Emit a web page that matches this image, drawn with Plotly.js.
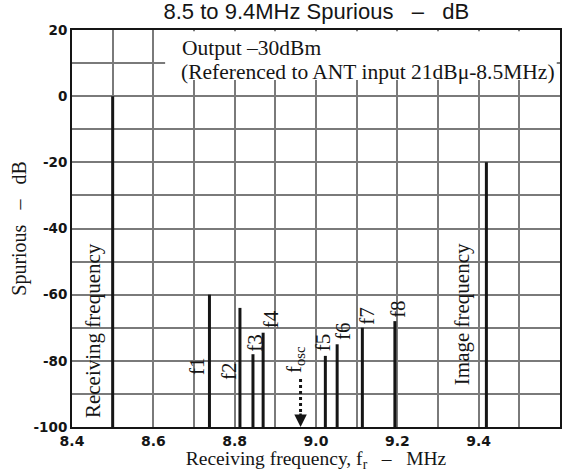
<!DOCTYPE html>
<html>
<head>
<meta charset="utf-8">
<script src="https://cdn.plot.ly/plotly-3.0.1.min.js"></script>
<style>html,body{margin:0;padding:0;background:#fff;}#chart{width:568px;height:472px;}</style>
</head>
<body>
<div id="chart"></div>
<script>
// ---- data ----
const lineNames   = ['Receiving', 'f1', 'f2', 'f3', 'f4', 'f5', 'f6', 'f7', 'f8', 'Image'];
const lineFreqMHz = [8.500, 8.738, 8.813, 8.845, 8.870, 9.023, 9.052, 9.114, 9.194, 9.419];
const lineLevelDb = [0, -60, -64, -78, -71.5, -78.5, -75, -70, -68, -20];
const floorDb = -100;
const oscFreqMHz = 8.962;
const xTickVals = [8.4, 8.5, 8.6, 8.7, 8.8, 8.9, 9.0, 9.1, 9.2, 9.3, 9.4, 9.5, 9.6];
const xTickText = ['8.4', '', '8.6', '', '8.8', '', '9.0', '', '9.2', '', '9.4', '', '9.6'];
const yTickVals = [20, 10, 0, -10, -20, -30, -40, -50, -60, -70, -80, -90, -100];
const yTickText = ['20', '', '0', '', '-20', '', '-40', '', '-60', '', '-80', '', '-100'];

// label placement (layout only)
const labelText = ['Receiving frequency', 'f1', 'f2', 'f3', 'f4', 'f<sub>osc</sub>', 'f5', 'f6', 'f7', 'f8', 'Image frequency'];
const labelX = [8.4516, 8.7073, 8.786, 8.850, 8.891, 8.948, 9.018, 9.066, 9.1246, 9.2016, 9.359];
const labelY = [-70.7, -81.6, -83.1, -74.5, -67.5, -79.5, -74.3, -71.0, -66.5, -64.3, -65.9];

const serif = 'Liberation Serif, Times New Roman, serif';
const ink = '#151515';

// build the vertical spur lines from the arrays
const xs = [], ys = [];
lineFreqMHz.forEach((f, i) => { xs.push(f, f, null); ys.push(floorDb, lineLevelDb[i], null); });

const traces = [
  { x: xs, y: ys, mode: 'lines', type: 'scatter', line: { color: ink, width: 3 }, hoverinfo: 'skip', showlegend: false },
  { x: [oscFreqMHz, oscFreqMHz], y: [-85.5, -96], mode: 'lines', type: 'scatter',
    line: { color: ink, width: 3, dash: 'dot' }, hoverinfo: 'skip', showlegend: false }
];

const annotations = labelText.map((t, i) => ({
  x: labelX[i], y: labelY[i], xref: 'x', yref: 'y', text: t, showarrow: false,
  textangle: -90, xanchor: 'center', yanchor: 'middle',
  font: { family: serif, size: 21, color: ink }
}));
annotations.push(
  { x: oscFreqMHz, y: floorDb, ax: oscFreqMHz, ay: -95.5, xref: 'x', yref: 'y', axref: 'x', ayref: 'y',
    text: '', showarrow: true, arrowhead: 2, arrowsize: 1, arrowwidth: 2.5, arrowcolor: ink },
  { x: 8.6656, y: 14.56, xref: 'x', yref: 'y', text: 'Output –30dBm', showarrow: false,
    xanchor: 'left', yanchor: 'middle', font: { family: serif, size: 21.5, color: ink } },
  { x: 8.663, y: 7.3, xref: 'x', yref: 'y', text: '(Referenced to ANT input 21dBμ-8.5MHz)', showarrow: false,
    xanchor: 'left', yanchor: 'middle', font: { family: serif, size: 21.5, color: ink } }
);

const gridCol = '#7a7a7a';
const layout = {
  width: 568, height: 472,
  margin: { l: 72, r: 8, t: 30, b: 45, pad: 0 },
  paper_bgcolor: '#fff', plot_bgcolor: '#fff',
  title: { text: '8.5 to 9.4MHz Spurious &nbsp; – &nbsp; dB', x: 0.557, xanchor: 'center', xref: 'container',
           y: 0.976, yref: 'container', yanchor: 'middle',
           font: { family: 'Liberation Sans, Arial, sans-serif', size: 22, color: ink } },
  xaxis: {
    range: [8.4, 9.6], tickmode: 'array', tickvals: xTickVals, ticktext: xTickText, ticks: '',
    showgrid: true, gridcolor: gridCol, gridwidth: 2,
    showline: true, linecolor: ink, linewidth: 2, mirror: true, zeroline: false,
    tickfont: { family: 'DejaVu Sans, sans-serif', size: 14, weight: 'bold', color: ink },
    title: { text: 'Receiving frequency, f<sub>r</sub> &nbsp; – &nbsp; MHz', standoff: 3,
             font: { family: serif, size: 19.5, color: ink } },
    automargin: false, fixedrange: true
  },
  yaxis: {
    range: [floorDb, 20], tickmode: 'array', tickvals: yTickVals, ticktext: yTickText, ticks: '',
    showgrid: true, gridcolor: gridCol, gridwidth: 2,
    showline: true, linecolor: ink, linewidth: 2, mirror: true, zeroline: false,
    tickfont: { family: 'DejaVu Sans, sans-serif', size: 13.5, weight: 'bold', color: ink },
    ticklabelstandoff: 0,
    title: { text: 'Spurious &nbsp; – &nbsp; dB', standoff: 2, font: { family: serif, size: 20, color: ink } },
    automargin: false, fixedrange: true
  },
  shapes: [
    { type: 'rect', xref: 'x', yref: 'y', x0: 8.629, x1: 9.592, y0: 4.9, y1: 19.6,
      fillcolor: '#fff', line: { width: 0 }, layer: 'above' }
  ],
  annotations: annotations,
  showlegend: false
};

Plotly.newPlot('chart', traces, layout, { displayModeBar: false, staticPlot: true });
</script>
</body>
</html>
